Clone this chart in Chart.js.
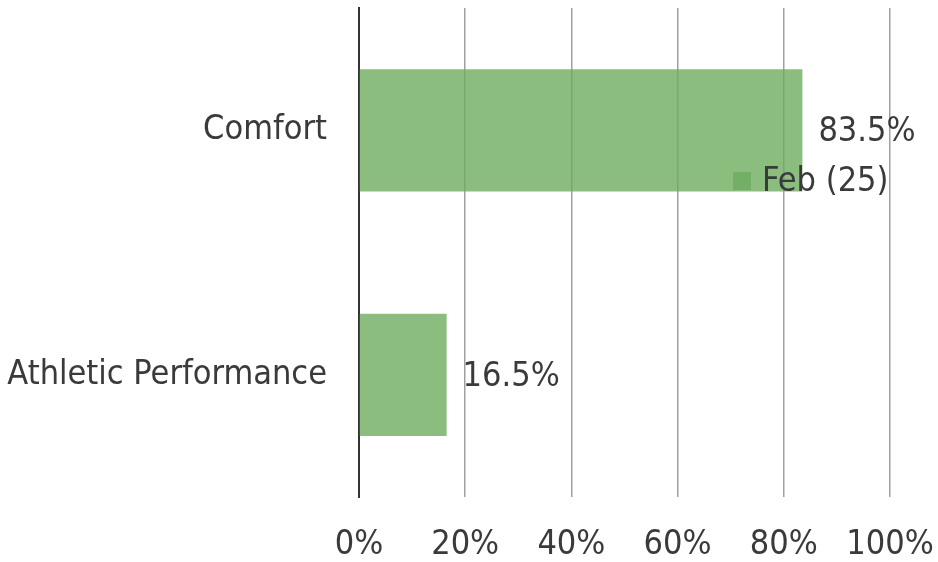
<!DOCTYPE html>
<html>
<head>
<meta charset="utf-8">
<script src="https://cdn.jsdelivr.net/npm/chart.js@4"></script>
<style>
    html, body { margin: 0; padding: 0; background: #fff; }
</style>
</head>
<body>
<canvas id="chart" width="938" height="562"></canvas>
<script>
const categories = ['Comfort', 'Athletic Performance'];
const seriesName = 'Feb (25)';
const seriesValues = [83.5, 16.5];
const tickValues = [0, 20, 40, 60, 80, 100];

const textColor = '#3a3a3a';
const barColor = 'rgba(110, 172, 95, 0.8)';
const fontFamily = '"DejaVu Sans Condensed", "DejaVu Sans", sans-serif';
const fontSize = 34;

// Value labels to the right of each bar, plus the floating legend
const labelsPlugin = {
    id: 'barLabels',
    afterDatasetsDraw(chart) {
        const ctx = chart.ctx;
        const meta = chart.getDatasetMeta(0);
        ctx.save();
        ctx.font = fontSize + 'px ' + fontFamily;
        ctx.fillStyle = textColor;
        ctx.textBaseline = 'middle';
        ctx.textAlign = 'left';
        meta.data.forEach((bar, i) => {
            ctx.fillText(seriesValues[i].toFixed(1) + '%', bar.x + 16, bar.y + 2);
        });

        // legend
        const area = chart.chartArea;
        const lx = area.left + 374;
        const ly = area.top + 164;
        ctx.fillStyle = barColor;
        ctx.fillRect(lx, ly, 18, 18);
        ctx.fillStyle = textColor;
        ctx.fillText(chart.data.datasets[0].label, lx + 29, ly + 10);
        ctx.restore();
    }
};

new Chart(document.getElementById('chart').getContext('2d'), {
    type: 'bar',
    data: {
        labels: categories,
        datasets: [{
            label: seriesName,
            data: seriesValues,
            backgroundColor: barColor,
            borderWidth: 0,
            barPercentage: 0.5,
            categoryPercentage: 1.0
        }]
    },
    options: {
        indexAxis: 'y',
        responsive: false,
        animation: false,
        devicePixelRatio: 1,
        layout: { padding: { top: 8, right: 48, left: 0, bottom: 0 } },
        plugins: {
            legend: { display: false },
            tooltip: { enabled: false }
        },
        scales: {
            x: {
                min: 0,
                max: 100,
                afterBuildTicks: scale => { scale.ticks = tickValues.map(v => ({ value: v })); },
                afterFit: scale => {
                    scale.height = 65;
                    scale.paddingLeft = 0;
                    scale.paddingRight = 0;
                },
                grid: { color: '#a0a0a0', lineWidth: 1.5, drawTicks: false },
                border: { display: false },
                ticks: {
                    color: textColor,
                    font: { family: fontFamily, size: fontSize },
                    padding: 28,
                    maxRotation: 0,
                    callback: v => v + '%'
                }
            },
            y: {
                afterFit: scale => {
                    scale.width = 359;
                    scale.paddingTop = 0;
                    scale.paddingBottom = 0;
                },
                grid: { display: false, drawTicks: false },
                border: { display: true, color: '#333', width: 2 },
                ticks: {
                    color: textColor,
                    font: { family: fontFamily, size: fontSize },
                    padding: 32
                }
            }
        }
    },
    plugins: [labelsPlugin]
});
</script>
</body>
</html>
